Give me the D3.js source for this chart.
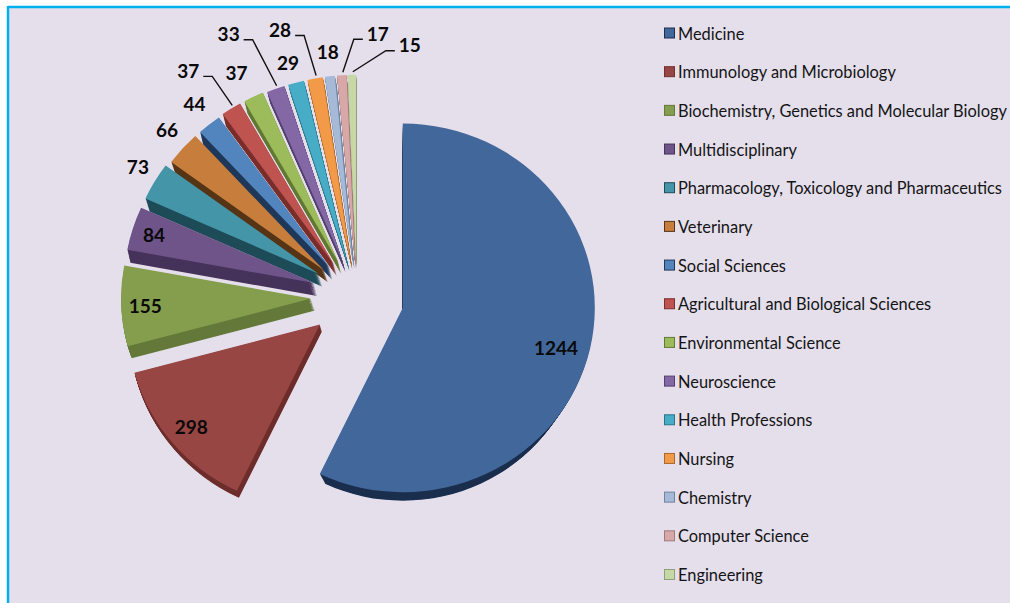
<!DOCTYPE html>
<html>
<head>
<meta charset="utf-8">
<script src="https://cdn.jsdelivr.net/npm/d3@7"></script>
<style>
  html, body { margin: 0; padding: 0; background: #fff; overflow: hidden; }
  text { font-family: Lato, "Open Sans", sans-serif; }
</style>
</head>
<body>
<div id="plot"></div>
<script>
const categories = ["Medicine", "Immunology and Microbiology", "Biochemistry, Genetics and Molecular Biology",
  "Multidisciplinary", "Pharmacology, Toxicology and Pharmaceutics", "Veterinary", "Social Sciences",
  "Agricultural and Biological Sciences", "Environmental Science", "Neuroscience", "Health Professions",
  "Nursing", "Chemistry", "Computer Science", "Engineering"];
const values = [1244, 298, 155, 84, 73, 66, 44, 37, 37, 33, 29, 28, 18, 17, 15];

const topColors = ["#42679a", "#984644", "#849e4e", "#6f5489", "#4595a9", "#c77d3b", "#5285be", "#be5350",
  "#9cbb5a", "#8467a5", "#47acc5", "#f29a47", "#a6bad8", "#d8a8a8", "#c7d8a8"];
const sideColors = ["#1b2f4e", "#6e2f2d", "#64793a", "#46335a", "#1e4c58", "#573617", "#20395a", "#7a2f2d",
  "#627a36", "#544070", "#2a7587", "#a96a2e", "#7084a0", "#a07a7a", "#8fa078"];

// label nudges from the rim of each slice, the way they were dragged in the original
const labelNudge = [[-34, -1], [18, -16], [27, -3], [25, 3], [-13, -19], [-12, -20], [-12, -21], [-41, -39],
  [-15, -25], [-45, -55], [-6, -20], [-33, -49], [-1, -25], [37, -42], [58, -30]];
const hasLeader = [0, 0, 0, 0, 0, 0, 0, 1, 0, 1, 0, 1, 0, 1, 1];

// the original is a 3D pie, so slices shift and extrude differently around the circle
const perspectiveShift = [[0, 0], [-1, 0], [1, -2], [2, -4], [2, -5], [2, -2], [2, -1], [2, -1], [2, -1],
  [2, 0], [2, 0], [2, 0], [1, 0], [1, 0], [0, 0]];
const radiusTrim = [0, 0, 2, 2, 2, 2, 1, 0, 0, 0, 0, 0, 0, 0, 0];
const extrude = [[0, 20], [2, 7], [4, 12], [3, 13], [4, 13], [4, 12], [3, 13], [3, 12], [3, 12],
  [3, 11], [3, 11], [2, 10], [2, 10], [1, 10], [1, 10]];
const sideShrink = [12, 0, 0, 0, 0, 0, 0, 0, 0, 0, 0, 0, 0, 0, 0];

const width = 1010, height = 603;
const cx = 357, cy = 299;
const radius = 192, squash = 0.96;
const explodeX = 47, explodeY = 40;
const steps = 14;

const svg = d3.select("div#plot").append("svg")
  .attr("width", width)
  .attr("height", height)
  .style("display", "block");

// panel with the cyan border on top and left
svg.append("rect").attr("x", 8).attr("y", 7).attr("width", width - 8).attr("height", height - 7).attr("fill", "#e5dfec");
svg.append("line").attr("x1", 8).attr("x2", width).attr("y1", 7).attr("y2", 7).attr("stroke", "#00b0f0").attr("stroke-width", 2.5);
svg.append("line").attr("x1", 8).attr("x2", 8).attr("y1", 6).attr("y2", height).attr("stroke", "#00b0f0").attr("stroke-width", 2.5);

const pie = d3.pie().sort(null).value(d => d);
const slices = pie(values);
const arc = d3.arc().innerRadius(0);

function midAngle(d) { return (d.startAngle + d.endAngle) / 2; }
function apex(d) {
  const a = midAngle(d);
  return [cx + explodeX * Math.sin(a), cy - explodeY * Math.cos(a)];
}
function rim(d, extra) {
  const a = midAngle(d), p = apex(d);
  return [p[0] + (radius + extra) * Math.sin(a), p[1] - (radius + extra) * squash * Math.cos(a)];
}

// top slices get painted first so the lower ones cover their tips
const order = d3.range(values.length).reverse();

const groups = svg.selectAll(".slice")
  .data(order.map(i => slices[i]))
  .enter().append("g")
  .attr("class", "slice");

groups.each(function(d) {
  const g = d3.select(this), p = apex(d);
  const s = perspectiveShift[d.index], e = extrude[d.index];
  const x = p[0] + s[0], y = p[1] + s[1];
  const r = radius - radiusTrim[d.index];
  d3.range(steps, 0, -1).forEach(function(k) {
    g.append("path")
      .attr("d", arc.outerRadius(r - sideShrink[d.index] * k / steps)(d))
      .attr("fill", sideColors[d.index])
      .attr("transform", `translate(${x + e[0] * k / steps},${y + e[1] * k / steps}) scale(1,${squash})`);
  });
  g.append("path")
    .attr("d", arc.outerRadius(r)(d))
    .attr("fill", topColors[d.index])
    .attr("transform", `translate(${x},${y}) scale(1,${squash})`);
});

// leader lines
const line = d3.line();
svg.selectAll(".leader")
  .data(slices.filter(d => hasLeader[d.index]))
  .enter().append("path")
  .attr("class", "leader")
  .attr("fill", "none")
  .attr("stroke", "#111")
  .attr("stroke-width", 1.4)
  .attr("d", function(d) {
    const r = rim(d, 0), n = labelNudge[d.index];
    const lx = r[0] + n[0], ly = r[1] + n[1];
    const side = lx < r[0] ? 1 : -1;
    const s = perspectiveShift[d.index];
    return line([[lx + side * 15, ly + 6], [lx + side * 24, ly + 6], [r[0] + s[0] + 1, r[1] + s[1] - 3]]);
  });

// data labels
svg.selectAll(".value")
  .data(slices)
  .enter().append("text")
  .attr("class", "value")
  .attr("x", d => rim(d, 0)[0] + labelNudge[d.index][0])
  .attr("y", d => rim(d, 0)[1] + labelNudge[d.index][1])
  .attr("text-anchor", "middle")
  .attr("dominant-baseline", "central")
  .attr("font-size", 19)
  .attr("font-weight", 700)
  .attr("fill", "#0a0a0a")
  .text(d => d.value);

// legend
const legendY = d3.scalePoint().domain(categories).range([33, 574.5]);

svg.selectAll(".swatch")
  .data(categories)
  .enter().append("rect")
  .attr("class", "swatch")
  .attr("x", 664.5)
  .attr("y", d => legendY(d) - 5)
  .attr("width", 10)
  .attr("height", 10)
  .attr("fill", (d, i) => topColors[i])
  .attr("stroke", (d, i) => sideColors[i])
  .attr("stroke-width", 1);

svg.selectAll(".legend")
  .data(categories)
  .enter().append("text")
  .attr("class", "legend")
  .attr("x", 678)
  .attr("y", d => legendY(d))
  .attr("dominant-baseline", "central")
  .attr("font-size", 16.4)
  .attr("fill", "#141414")
  .text(d => d);
</script>
</body>
</html>
